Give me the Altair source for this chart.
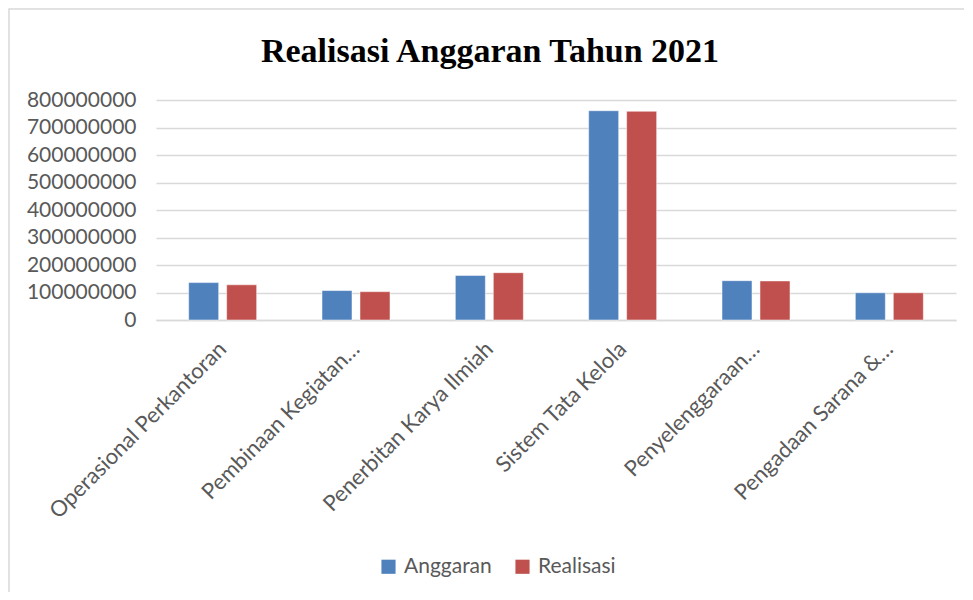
import altair as alt
import pandas as pd

categories = [
    "Operasional Perkantoran",
    "Pembinaan Kegiatan…",
    "Penerbitan Karya Ilmiah",
    "Sistem Tata Kelola",
    "Penyelenggaraan…",
    "Pengadaan Sarana &…",
]
anggaran = [136000000, 107000000, 162000000, 761000000, 143000000, 99000000]
realisasi = [128000000, 103000000, 172000000, 759000000, 142000000, 99000000]
series = ["Anggaran", "Realisasi"]
colors = ["#4F81BD", "#C0504D"]
y_ticks = [0, 100000000, 200000000, 300000000, 400000000, 500000000, 600000000, 700000000, 800000000]
title_text = "Realisasi Anggaran Tahun 2021"

rows = []
for c, a, r in zip(categories, anggaran, realisasi):
    rows.append({"Kategori": c, "Seri": series[0], "Nilai": a})
    rows.append({"Kategori": c, "Seri": series[1], "Nilai": r})
df = pd.DataFrame(rows)

FONT = "Lato"
W, H = 800, 220

bars = alt.Chart(df).mark_bar(stroke="white", strokeWidth=0.5).encode(
    x=alt.X("Kategori:N", sort=categories, title=None,
            scale=alt.Scale(paddingInner=0.49, paddingOuter=0.245),
            axis=alt.Axis(labelAngle=-45, labelAlign="right", labelBaseline="top",
                          labelFontSize=22, labelFont=FONT, labelColor="#595959",
                          labelPadding=18, labelOffset=-7, ticks=False, domainColor="#D9D9D9",
                          domainWidth=1.5, labelLimit=400)),
    xOffset=alt.XOffset("Seri:N", sort=series,
                        scale=alt.Scale(paddingInner=0.21, paddingOuter=0)),
    y=alt.Y("Nilai:Q", title=None,
            scale=alt.Scale(domain=[0, 800000000], nice=False),
            axis=alt.Axis(values=y_ticks, format="d", labelFontSize=21, labelFont=FONT,
                          labelColor="#595959", ticks=False, domain=False,
                          gridColor="#D9D9D9", gridWidth=1.5, labelPadding=20)),
    color=alt.Color("Seri:N", sort=series, title=None,
                    scale=alt.Scale(domain=series, range=colors),
                    legend=alt.Legend(orient="none", direction="horizontal",
                                      legendX=222, legendY=456,
                                      symbolType="square", symbolSize=200,
                                      symbolStrokeWidth=0, labelFontSize=21,
                                      labelFont=FONT, labelColor="#595959",
                                      columnPadding=20, labelOffset=5)),
)

frame = alt.Chart(pd.DataFrame({"a": [0]})).mark_rect(
    fill=None, stroke="#D9D9D9", strokeWidth=1.5
).encode(x=alt.value(-147), x2=alt.value(840), y=alt.value(-91), y2=alt.value(530))

title = alt.Chart(pd.DataFrame({"t": [title_text]})).mark_text(
    font="Liberation Serif", fontSize=34, fontWeight="bold", color="#000000",
    align="center", baseline="alphabetic"
).encode(text="t:N", x=alt.value(334), y=alt.value(-38))

chart = alt.layer(frame, bars, title).properties(
    width=W, height=H,
    autosize=alt.AutoSizeParams(type="none"),
    padding={"left": 148, "top": 92, "right": 8, "bottom": 272},
).configure_view(stroke=None)

chart.save("out.html", embed_options={"renderer": "svg", "actions": False})
